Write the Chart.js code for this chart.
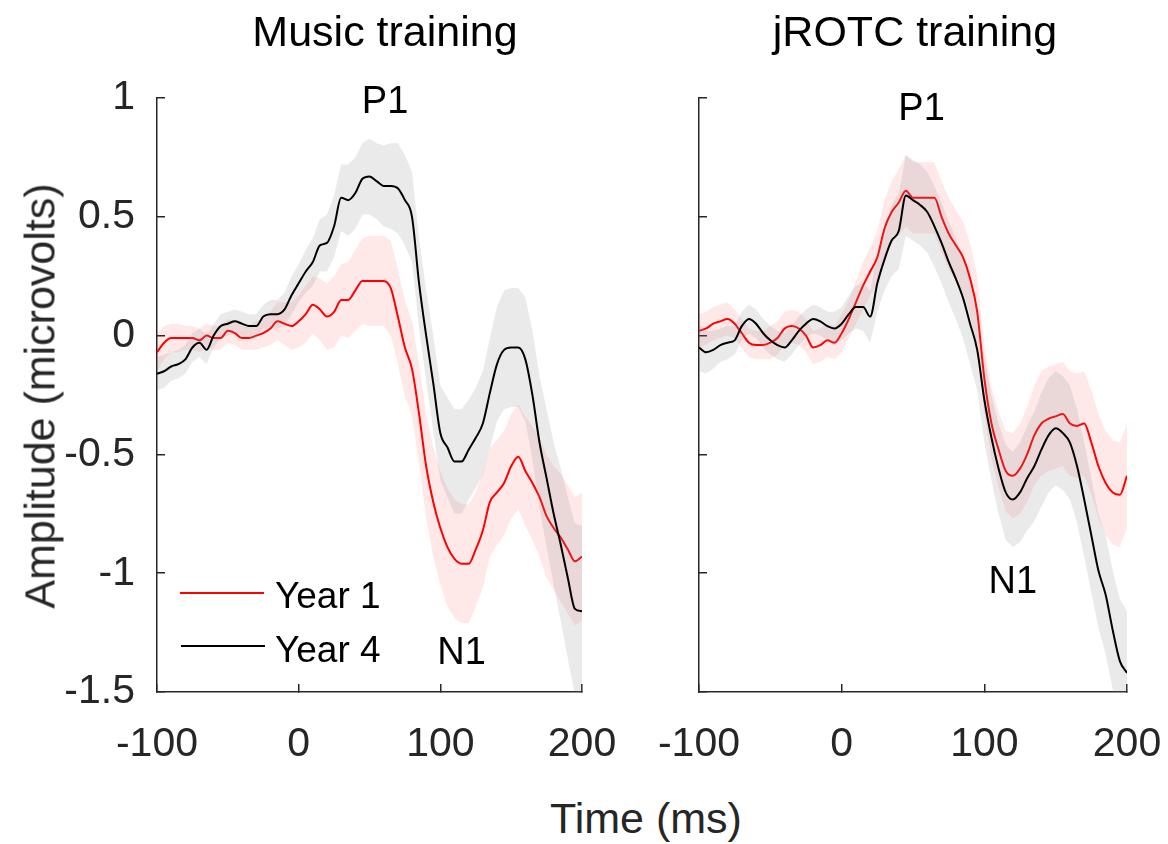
<!DOCTYPE html>
<html>
<head>
<meta charset="utf-8">
<script src="https://cdn.jsdelivr.net/npm/chart.js@4.4.1/dist/chart.umd.min.js"></script>
<style>
  body { margin: 0; background: #fff; font-family: "Liberation Sans", Arial, sans-serif; }
  #wrap { position: relative; width: 1168px; height: 844px; overflow: hidden; }
  canvas { position: absolute; top: 0; }
  .txt { position: absolute; line-height: 1; white-space: nowrap; color: #000; }
  .key { position: absolute; height: 0; width: 84px; }
</style>
</head>
<body>
<div id="wrap">
  <canvas id="musicCanvas" width="640" height="790" style="left:0px"></canvas>
  <canvas id="jrotcCanvas" width="548" height="790" style="left:620px"></canvas>

  <div class="txt" style="font-size:43px; left:385px; top:10px; transform:translateX(-50%)">Music training</div>
  <div class="txt" style="font-size:43px; left:915px; top:10px; transform:translateX(-50%)">jROTC training</div>
  <div class="txt" style="font-size:43px; color:#262626; left:40px; top:396px; transform:translate(-50%,-50%) rotate(-90deg)">Amplitude (microvolts)</div>
  <div class="txt" style="font-size:43px; color:#262626; left:646px; top:797px; transform:translateX(-50%)">Time (ms)</div>

  <div class="key" style="left:180px; top:592px; border-top:2px solid #ff0000"></div>
  <div class="txt" style="font-size:37px; left:275px; top:577px">Year 1</div>
  <div class="key" style="left:181px; top:645px; border-top:2px solid #000"></div>
  <div class="txt" style="font-size:37px; left:275px; top:631px">Year 4</div>
</div>

<script>
// time axis (ms)
const timeMs = [-100, -95, -90, -85, -80, -75, -70, -65, -60, -55,
                -50, -45, -40, -35, -30, -25, -20, -15, -10, -5,
                0, 5, 10, 15, 20, 25, 30, 35, 40, 45,
                50, 55, 60, 65, 70, 75, 80, 85, 90, 95,
                100, 105, 110, 115, 120, 125, 130, 135, 140, 145,
                150, 155, 160, 165, 170, 175, 180, 185, 190, 195,
                200];

// Music training group
const musicYear1 = [-0.07, -0.03, -0.01, -0.01, -0.01, -0.01, -0.02, 0.00, -0.01, -0.01,
                    0.02, 0.01, -0.01, -0.01, 0.00, 0.01, 0.03, 0.06, 0.05, 0.04,
                    0.06, 0.09, 0.13, 0.11, 0.08, 0.10, 0.15, 0.15, 0.19, 0.23,
                    0.23, 0.23, 0.23, 0.20, 0.08, -0.05, -0.14, -0.33, -0.55, -0.70,
                    -0.81, -0.89, -0.94, -0.96, -0.96, -0.90, -0.82, -0.70, -0.66, -0.62,
                    -0.55, -0.51, -0.57, -0.62, -0.68, -0.76, -0.81, -0.85, -0.90, -0.95,
                    -0.93];
const musicYear1Sem = [0.08, 0.07, 0.06, 0.06, 0.05, 0.05, 0.05, 0.05, 0.05, 0.05,
                       0.05, 0.05, 0.05, 0.05, 0.06, 0.06, 0.07, 0.08, 0.09, 0.10,
                       0.11, 0.12, 0.12, 0.13, 0.14, 0.15, 0.15, 0.16, 0.17, 0.18,
                       0.19, 0.19, 0.19, 0.20, 0.20, 0.20, 0.20, 0.21, 0.22, 0.23,
                       0.24, 0.25, 0.25, 0.25, 0.25, 0.24, 0.24, 0.23, 0.22, 0.22,
                       0.22, 0.22, 0.23, 0.24, 0.25, 0.26, 0.26, 0.27, 0.27, 0.27,
                       0.27];
const musicYear4 = [-0.16, -0.15, -0.13, -0.12, -0.10, -0.05, -0.03, -0.06, 0.00, 0.04,
                    0.05, 0.06, 0.05, 0.04, 0.04, 0.08, 0.09, 0.09, 0.11, 0.17,
                    0.22, 0.27, 0.31, 0.38, 0.39, 0.46, 0.58, 0.57, 0.60, 0.66,
                    0.67, 0.65, 0.63, 0.63, 0.62, 0.57, 0.50, 0.22, 0.00, -0.20,
                    -0.41, -0.47, -0.53, -0.53, -0.48, -0.43, -0.37, -0.24, -0.12, -0.06,
                    -0.05, -0.05, -0.10, -0.25, -0.45, -0.60, -0.75, -0.88, -1.02, -1.15,
                    -1.16];
const musicYear4Sem = [0.07, 0.07, 0.06, 0.06, 0.06, 0.06, 0.06, 0.06, 0.05, 0.05,
                       0.05, 0.05, 0.05, 0.05, 0.05, 0.05, 0.06, 0.06, 0.07, 0.08,
                       0.08, 0.09, 0.10, 0.11, 0.12, 0.13, 0.14, 0.15, 0.15, 0.15,
                       0.16, 0.16, 0.17, 0.18, 0.19, 0.19, 0.19, 0.19, 0.19, 0.20,
                       0.20, 0.21, 0.22, 0.22, 0.21, 0.21, 0.22, 0.23, 0.24, 0.25,
                       0.25, 0.25, 0.26, 0.27, 0.28, 0.29, 0.30, 0.32, 0.34, 0.36,
                       0.36];

// jROTC training group
const jrotcYear1 = [0.02, 0.03, 0.05, 0.06, 0.07, 0.05, 0.01, -0.03, -0.04, -0.04,
                    -0.03, -0.01, 0.03, 0.04, 0.03, 0.00, -0.05, -0.04, -0.02, -0.03,
                    0.01, 0.07, 0.14, 0.21, 0.27, 0.33, 0.45, 0.52, 0.56, 0.61,
                    0.58, 0.58, 0.58, 0.58, 0.50, 0.43, 0.38, 0.33, 0.24, 0.10,
                    -0.18, -0.37, -0.48, -0.57, -0.59, -0.56, -0.50, -0.42, -0.37, -0.35,
                    -0.34, -0.33, -0.37, -0.38, -0.37, -0.45, -0.55, -0.62, -0.66, -0.67,
                    -0.59];
const jrotcYear1Sem = [0.07, 0.07, 0.07, 0.07, 0.07, 0.06, 0.06, 0.06, 0.06, 0.06,
                       0.07, 0.07, 0.07, 0.07, 0.07, 0.07, 0.07, 0.07, 0.07, 0.07,
                       0.08, 0.08, 0.09, 0.10, 0.10, 0.11, 0.12, 0.13, 0.14, 0.15,
                       0.15, 0.15, 0.15, 0.15, 0.15, 0.15, 0.15, 0.15, 0.15, 0.15,
                       0.15, 0.15, 0.16, 0.17, 0.18, 0.19, 0.20, 0.21, 0.22, 0.22,
                       0.22, 0.22, 0.22, 0.22, 0.22, 0.22, 0.22, 0.22, 0.22, 0.22,
                       0.22];
const jrotcYear4 = [-0.05, -0.07, -0.06, -0.04, -0.03, -0.02, 0.04, 0.07, 0.05, 0.01,
                    -0.02, -0.04, -0.05, -0.02, 0.02, 0.05, 0.07, 0.06, 0.04, 0.03,
                    0.05, 0.09, 0.12, 0.12, 0.08, 0.22, 0.32, 0.40, 0.44, 0.59,
                    0.57, 0.55, 0.52, 0.46, 0.39, 0.31, 0.24, 0.16, 0.05, -0.06,
                    -0.27, -0.43, -0.56, -0.66, -0.69, -0.66, -0.60, -0.55, -0.48, -0.42,
                    -0.39, -0.41, -0.45, -0.55, -0.69, -0.84, -0.99, -1.09, -1.24, -1.37,
                    -1.42];
const jrotcYear4Sem = [0.10, 0.09, 0.08, 0.07, 0.07, 0.06, 0.06, 0.06, 0.06, 0.06,
                       0.06, 0.06, 0.06, 0.06, 0.06, 0.06, 0.06, 0.06, 0.06, 0.07,
                       0.07, 0.08, 0.09, 0.10, 0.11, 0.12, 0.13, 0.15, 0.16, 0.17,
                       0.17, 0.17, 0.17, 0.17, 0.17, 0.17, 0.17, 0.17, 0.17, 0.17,
                       0.18, 0.18, 0.19, 0.20, 0.20, 0.21, 0.22, 0.23, 0.24, 0.24,
                       0.24, 0.24, 0.24, 0.24, 0.24, 0.24, 0.24, 0.25, 0.25, 0.26,
                       0.26];

const xTicks = [-100, 0, 100, 200];
const yTicks = [-1.5, -1, -0.5, 0, 0.5, 1];

// component labels (ms, microvolts)
const musicNotes = [{ text: 'P1', x: 61, y: 0.98 }, { text: 'N1', x: 115, y: -1.34 }];
const jrotcNotes = [{ text: 'P1', x: 56, y: 0.95 }, { text: 'N1', x: 120, y: -1.04 }];

const FONT = '"Liberation Sans", Arial, sans-serif';
const AXIS = '#262626';

const notesPlugin = {
    id: 'peakNotes',
    afterDatasetsDraw(chart, args, opts) {
        const ctx = chart.ctx;
        ctx.save();
        ctx.font = '38px ' + FONT;
        ctx.fillStyle = '#000';
        ctx.textAlign = 'center';
        ctx.textBaseline = 'middle';
        opts.items.forEach(n => {
            ctx.fillText(n.text, chart.scales.x.getPixelForValue(n.x), chart.scales.y.getPixelForValue(n.y));
        });
        ctx.restore();
    }
};

function toPoints(values) {
    return values.map((v, i) => ({ x: timeMs[i], y: v }));
}

function band(mean, sem, color, order) {
    return [
        { data: mean.map((v, i) => ({ x: timeMs[i], y: v + sem[i] })), borderWidth: 0, pointRadius: 0, fill: false, order: order + 1 },
        { data: mean.map((v, i) => ({ x: timeMs[i], y: v - sem[i] })), borderWidth: 0, pointRadius: 0, fill: '-1', backgroundColor: color, order: order }
    ];
}

function line(values, color, order) {
    return { data: toPoints(values), borderColor: color, borderWidth: 2, pointRadius: 0, fill: false,
             cubicInterpolationMode: 'monotone', order: order };
}

function makePanel(canvasId, year1, year1Sem, year4, year4Sem, notes, showYLabels, yWidth, padRight) {
    const datasets = [].concat(
        band(year1, year1Sem, 'rgba(255,0,0,0.09)', 4),
        [line(year1, '#ff0000', 3)],
        band(year4, year4Sem, 'rgba(140,140,140,0.18)', 1),
        [line(year4, '#000000', 0)]
    );
    return new Chart(document.getElementById(canvasId), {
        type: 'line',
        data: { datasets: datasets },
        plugins: [notesPlugin],
        options: {
            responsive: false,
            animation: false,
            devicePixelRatio: 1,
            layout: { autoPadding: false, padding: { top: 98, right: padRight, bottom: 0, left: 0 } },
            plugins: {
                legend: { display: false },
                tooltip: { enabled: false },
                peakNotes: { items: notes }
            },
            scales: {
                x: {
                    type: 'linear', min: -100, max: 200,
                    border: { display: true, color: AXIS, width: 1.5 },
                    grid: { drawOnChartArea: false, color: AXIS, lineWidth: 1.5, tickLength: -8 },
                    afterBuildTicks: s => { s.ticks = xTicks.map(v => ({ value: v })); },
                    ticks: { color: AXIS, font: { size: 41, family: FONT }, padding: 36, maxRotation: 0, autoSkip: false,
                             callback: v => String(v) },
                    afterFit: s => { s.height = 98; s.paddingLeft = 0; s.paddingRight = 0; }
                },
                y: {
                    type: 'linear', min: -1.5, max: 1,
                    border: { display: true, color: AXIS, width: 1.5 },
                    grid: { drawOnChartArea: false, color: AXIS, lineWidth: 1.5, tickLength: -8 },
                    afterBuildTicks: s => { s.ticks = yTicks.map(v => ({ value: v })); },
                    ticks: { color: AXIS, font: { size: 41, family: FONT }, padding: 30, autoSkip: false,
                             callback: v => showYLabels ? String(v) : '' },
                    afterFit: s => { s.width = yWidth; s.paddingTop = 0; s.paddingBottom = 0; }
                }
            }
        }
    });
}

makePanel('musicCanvas', musicYear1, musicYear1Sem, musicYear4, musicYear4Sem, musicNotes, true, 157, 58);
makePanel('jrotcCanvas', jrotcYear1, jrotcYear1Sem, jrotcYear4, jrotcYear4Sem, jrotcNotes, false, 79, 41);
</script>
</body>
</html>
